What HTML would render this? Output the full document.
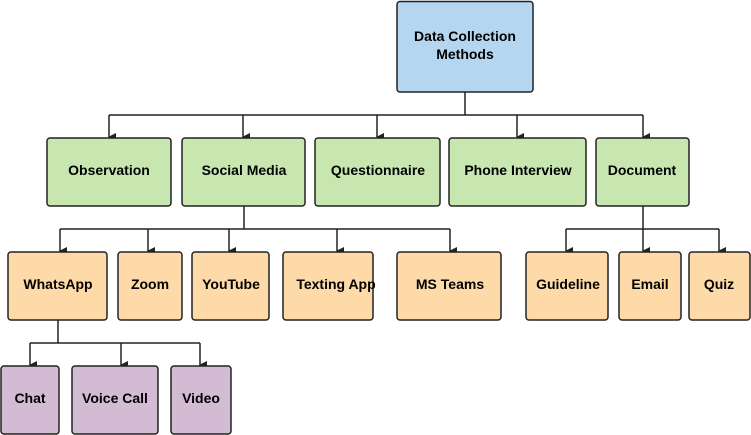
<!DOCTYPE html>
<html><head><style>
body{margin:0;background:#fff;width:751px;height:435px;overflow:hidden}
svg{display:block}
text{font-family:"Liberation Sans",sans-serif;font-weight:bold;font-size:14px;fill:#000;text-anchor:middle}
rect{stroke:#222;stroke-width:1.5}
.b{fill:#b4d6f0}.g{fill:#c8e6b0}.o{fill:#fddaa8}.p{fill:#d3bbd3}
path{stroke:#222;stroke-width:1.5;fill:none}
</style></head><body>
<svg width="751" height="435" viewBox="0 0 751 435">
<defs><marker id="a" markerWidth="8" markerHeight="8" refX="4" refY="7" orient="auto" markerUnits="userSpaceOnUse"><path d="M0,0 L8,0 L4,8 Z" style="fill:#222;stroke:none"/></marker></defs>
<path d="M465 92V115M109 115H643"/>
<path d="M109 115V137" marker-end="url(#a)"/><path d="M243 115V137" marker-end="url(#a)"/><path d="M377 115V137" marker-end="url(#a)"/><path d="M517 115V137" marker-end="url(#a)"/><path d="M643 115V137" marker-end="url(#a)"/>
<path d="M244 206V229M60 229H450"/>
<path d="M60 229V251" marker-end="url(#a)"/><path d="M148 229V251" marker-end="url(#a)"/><path d="M229 229V251" marker-end="url(#a)"/><path d="M337 229V251" marker-end="url(#a)"/><path d="M450 229V251" marker-end="url(#a)"/>
<path d="M643 206V229M566 229H719"/>
<path d="M566 229V251" marker-end="url(#a)"/><path d="M643 229V251" marker-end="url(#a)"/><path d="M719 229V251" marker-end="url(#a)"/>
<path d="M58 320V343M30 343H200"/>
<path d="M30 343V365" marker-end="url(#a)"/><path d="M121 343V365" marker-end="url(#a)"/><path d="M200 343V365" marker-end="url(#a)"/>
<rect class="b" x="397" y="1.5" width="136" height="90.5" rx="3"/>
<text x="465" y="41">Data Collection</text><text x="465" y="59">Methods</text>
<rect class="g" x="47" y="138" width="124" height="68" rx="3"/><text x="109" y="175">Observation</text>
<rect class="g" x="182" y="138" width="123" height="68" rx="3"/><text x="244" y="175">Social Media</text>
<rect class="g" x="315" y="138" width="125" height="68" rx="3"/><text x="378" y="175">Questionnaire</text>
<rect class="g" x="449" y="138" width="137" height="68" rx="3"/><text x="518" y="175">Phone Interview</text>
<rect class="g" x="596" y="138" width="93" height="68" rx="3"/><text x="642" y="175">Document</text>
<rect class="o" x="8" y="252" width="99" height="68" rx="3"/><text x="58" y="289">WhatsApp</text>
<rect class="o" x="118" y="252" width="64" height="68" rx="3"/><text x="150" y="289">Zoom</text>
<rect class="o" x="192" y="252" width="77" height="68" rx="3"/><text x="231" y="289">YouTube</text>
<rect class="o" x="283" y="252" width="90" height="68" rx="3"/><text x="336" y="289">Texting App</text>
<rect class="o" x="397" y="252" width="104" height="68" rx="3"/><text x="450" y="289">MS Teams</text>
<rect class="o" x="526" y="252" width="82" height="68" rx="3"/><text x="568" y="289">Guideline</text>
<rect class="o" x="619" y="252" width="62" height="68" rx="3"/><text x="650" y="289">Email</text>
<rect class="o" x="689" y="252" width="61" height="68" rx="3"/><text x="719" y="289">Quiz</text>
<rect class="p" x="1" y="366" width="58" height="68" rx="3"/><text x="30" y="403">Chat</text>
<rect class="p" x="72" y="366" width="86" height="68" rx="3"/><text x="115" y="403">Voice Call</text>
<rect class="p" x="171" y="366" width="60" height="68" rx="3"/><text x="201" y="403">Video</text>
</svg>
</body></html>
